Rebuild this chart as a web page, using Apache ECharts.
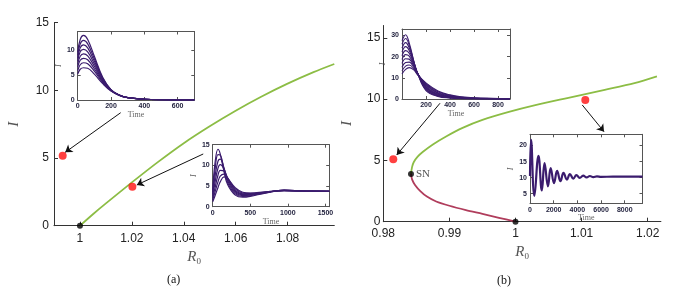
<!DOCTYPE html>
<html><head><meta charset="utf-8">
<script src="https://cdn.jsdelivr.net/npm/echarts@6/dist/echarts.min.js"></script>
<style>html,body{margin:0;padding:0;background:#fff}#c{width:686px;height:291px}</style>
</head><body><div id="c"></div>
<script>
// ---------------- data ----------------
// Panel (a) main
const aR0 = [1.0, 1.005, 1.01, 1.02, 1.03, 1.04, 1.05, 1.06, 1.07, 1.08, 1.09, 1.098];
const aI  = [0, 0.85, 1.65, 3.2, 4.7, 6.1, 7.35, 8.5, 9.55, 10.5, 11.35, 11.95];
const aRedDots = [[0.99335, 5.17], [1.0202, 2.88]];
const aBlackDots = [[1.0, 0]];
const aXTicks = [1, 1.02, 1.04, 1.06, 1.08];
const aArrows = [[[1.0157, 8.35], [0.9943, 5.42]], [[1.0475, 5.3], [1.0219, 3.01]]];

// Panel (b) main
const bUpperR0 = [0.98419, 0.98435, 0.9846, 0.9852, 0.986, 0.9875, 0.9895, 0.992, 0.995, 0.999, 1.003, 1.008, 1.0135, 1.018, 1.0214];
const bUpperI  = [3.9, 4.45, 4.85, 5.3, 5.7, 6.3, 6.95, 7.65, 8.3, 8.95, 9.5, 10.1, 10.75, 11.3, 11.85];
const bLowerR0 = [0.98419, 0.98435, 0.9848, 0.9856, 0.9866, 0.988, 0.990, 0.9925, 0.995, 0.9975, 1.0];
const bLowerI  = [3.9, 3.45, 3.0, 2.5, 2.05, 1.65, 1.3, 0.95, 0.64, 0.32, 0];
const bRedDots = [[0.98151, 5.09], [1.01056, 9.93]];
const bSN = [[0.98419, 3.9]];
const bBlackDots = [[1.0, 0]];
const bXTicks = [0.98, 0.99, 1, 1.01, 1.02];
const bArrows = [[[0.98858, 9.66], [0.98203, 5.44]], [[1.0101, 9.52], [1.0134, 7.34]]];
const snText = 'SN';

// Inset a1 (top-left)
const a1T = [0, 15, 35, 60, 100, 150, 200, 250, 300, 400, 500, 700];
const a1Curves = [
  [9.6, 12.2, 13.0, 12.2, 8.8, 4.6, 2.1, 1.0, 0.5, 0.15, 0.05, 0.02],
  [9.0, 11.3, 12.0, 11.3, 8.3, 4.4, 2.05, 1.0, 0.5, 0.15, 0.05, 0.02],
  [8.4, 10.5, 11.1, 10.5, 7.8, 4.3, 2.0, 0.98, 0.48, 0.15, 0.05, 0.02],
  [7.8, 9.7, 10.2, 9.7, 7.3, 4.1, 2.0, 0.97, 0.48, 0.15, 0.05, 0.02],
  [7.2, 8.8, 9.3, 8.9, 6.8, 3.9, 1.95, 0.96, 0.47, 0.15, 0.05, 0.02],
  [6.6, 8.0, 8.4, 8.1, 6.3, 3.7, 1.9, 0.95, 0.47, 0.15, 0.05, 0.02],
  [5.9, 7.1, 7.5, 7.3, 5.8, 3.5, 1.85, 0.94, 0.46, 0.15, 0.05, 0.02],
  [5.2, 6.2, 6.5, 6.4, 5.2, 3.3, 1.8, 0.93, 0.46, 0.15, 0.05, 0.02]
];
// Inset a2 (bottom-right of panel a)
const a2T = [0, 30, 70, 100, 150, 200, 300, 400, 500, 700, 950, 1200, 1550];
const a2Curves = [
  [4.0, 10.5, 13.9, 12.8, 8.5, 5.3, 2.8, 2.3, 2.5, 3.3, 4.0, 3.8, 3.7],
  [3.5, 8.8, 12.6, 12.5, 9.2, 5.8, 3.1, 2.5, 2.65, 3.35, 4.0, 3.8, 3.7],
  [3.0, 7.2, 11.0, 11.5, 9.4, 6.3, 3.4, 2.7, 2.8, 3.4, 3.95, 3.8, 3.7],
  [2.5, 5.8, 9.3, 10.2, 9.2, 6.7, 3.7, 2.9, 2.95, 3.45, 3.95, 3.8, 3.7],
  [2.0, 4.5, 7.6, 8.8, 8.6, 6.9, 4.0, 3.1, 3.1, 3.5, 3.9, 3.8, 3.7],
  [1.6, 3.5, 6.0, 7.4, 7.9, 6.9, 4.3, 3.3, 3.2, 3.55, 3.9, 3.8, 3.7],
  [1.2, 2.6, 4.6, 6.0, 7.2, 6.8, 4.6, 3.5, 3.3, 3.6, 3.9, 3.8, 3.7]
];
// Inset b1 (top-left of panel b)
const b1T = [0, 30, 60, 100, 130, 200, 300, 400, 500, 600, 750, 900];
const b1Curves = [
  [27.5, 30.3, 26.5, 17.5, 12.0, 4.0, 1.2, 0.45, 0.2, 0.1, 0.05, 0.02],
  [25.8, 28.5, 25.4, 17.4, 12.1, 4.4, 1.4, 0.55, 0.25, 0.12, 0.06, 0.03],
  [24.0, 26.6, 24.2, 17.2, 12.2, 4.8, 1.6, 0.65, 0.3, 0.15, 0.07, 0.04],
  [22.2, 24.7, 22.9, 16.9, 12.2, 5.2, 1.85, 0.75, 0.35, 0.18, 0.09, 0.05],
  [20.4, 22.8, 21.6, 16.5, 12.2, 5.6, 2.1, 0.9, 0.42, 0.22, 0.11, 0.06],
  [18.6, 20.9, 20.2, 16.0, 12.1, 6.0, 2.4, 1.05, 0.5, 0.27, 0.13, 0.07],
  [16.8, 19.0, 18.8, 15.4, 12.0, 6.4, 2.7, 1.25, 0.6, 0.32, 0.16, 0.09],
  [15.0, 17.2, 17.4, 14.8, 11.8, 6.8, 3.0, 1.45, 0.72, 0.38, 0.2, 0.11],
  [13.3, 15.5, 16.0, 14.2, 11.6, 7.2, 3.4, 1.7, 0.85, 0.45, 0.24, 0.13],
  [11.8, 14.0, 14.8, 13.6, 11.4, 7.6, 3.8, 1.95, 1.0, 0.55, 0.28, 0.16]
];
// Inset b2 (right of panel b)
const b2T = [0, 90, 372, 715, 1000, 1230, 1516, 1745, 2030, 2290, 2574, 2830, 3120, 3370, 3660, 3920, 4200, 4490, 4780, 5060, 5350, 5650, 6000, 7000, 8000, 9500];
const b2I = [10.5, 21.8, 4.3, 16.8, 6.0, 14.5, 7.3, 13.0, 8.3, 12.1, 8.9, 11.5, 9.4, 11.1, 9.7, 10.8, 9.9, 10.6, 10.05, 10.5, 10.15, 10.4, 10.25, 10.3, 10.3, 10.3];
const b2YTicks = [5, 10, 15, 20];

const timeLabel = 'Time';
const iLabel = 'I';
const captions = ['(a)', '(b)'];

// ---------------- styles ----------------
const GREEN = '#8cbd45', RED_BRANCH = '#b03d5c', PURPLE = '#3b1c6e', DOT_RED = '#ff1010';
const SANS = 'Liberation Sans', SERIF = 'Liberation Serif';
const fmt = v => String(+(+v).toFixed(3));

const grids = [], xAxes = [], yAxes = [], series = [];

function addMain(box, xmin, xmax, xticks, ymax, labelMargins, showYMax) {
  const gi = grids.length;
  grids.push(Object.assign({ containLabel: false }, box));
  const xi = xAxes.length, yi = yAxes.length;
  xAxes.push({
    gridIndex: gi, type: 'value', min: xmin, max: xmax,
    axisLine: { lineStyle: { color: '#333', width: 1 } },
    axisTick: { inside: true, length: 4, customValues: xticks, lineStyle: { color: '#333' } },
    axisLabel: { customValues: xticks, formatter: fmt, fontFamily: SANS, fontSize: 12, color: '#222', margin: labelMargins[0] },
    splitLine: { show: false },
    name: '{r|R}{s|0}', nameLocation: 'middle', nameGap: 16,
    nameTextStyle: { rich: {
      r: { fontFamily: SERIF, fontStyle: 'italic', fontSize: 15, color: '#555', lineHeight: 18, verticalAlign: 'middle' },
      s: { fontFamily: SERIF, fontSize: 9, color: '#555', lineHeight: 18, verticalAlign: 'bottom', padding: [6, 0, 0, 0] }
    } }
  });
  yAxes.push({
    gridIndex: gi, type: 'value', min: 0, max: ymax, interval: 5,
    axisLine: { show: true, lineStyle: { color: '#333', width: 1 } },
    axisTick: { show: true, inside: true, length: 4, lineStyle: { color: '#333' } },
    axisLabel: { fontFamily: SANS, fontSize: 12, color: '#222', margin: labelMargins[1], showMaxLabel: showYMax },
    splitLine: { show: false },
    name: iLabel, nameLocation: 'middle', nameGap: labelMargins[2], nameRotate: 90,
    nameTextStyle: { fontFamily: SERIF, fontStyle: 'italic', fontSize: 15, color: '#555' }
  });
  return { xi, yi };
}

function addInset(box, xr, yr, opts) {
  const gi = grids.length;
  grids.push(Object.assign({ containLabel: false }, box));
  const base = (extra) => Object.assign({
    gridIndex: gi, type: 'value',
    axisLine: { show: true, onZero: false, lineStyle: { color: '#555', width: 1 } },
    axisTick: { show: true, inside: true, length: 3, lineStyle: { color: '#555' } },
    splitLine: { show: false }
  }, extra);
  const lab = { fontFamily: SANS, fontSize: 7, fontWeight: 'bold', color: '#1d1d3a', formatter: v => String(v) };
  const xi = xAxes.length, yi = yAxes.length;
  xAxes.push(base({ position: 'bottom', min: xr[0], max: xr[1], interval: xr[2],
    axisLabel: Object.assign({ margin: 3, showMinLabel: opts.showX0 !== false, showMaxLabel: false }, lab),
    name: timeLabel, nameLocation: 'middle', nameGap: opts.timeGap,
    nameTextStyle: { fontFamily: SERIF, fontSize: 8, color: '#666' } }));
  xAxes.push(base({ position: 'top', min: xr[0], max: xr[1], interval: xr[2], axisLabel: { show: false } }));
  const yTickCfg = yr[3] ? { customValues: yr[3] } : {};
  yAxes.push(base({ position: 'left', min: yr[0], max: yr[1], interval: yr[2],
    axisTick: Object.assign({ show: true, inside: true, length: 3, lineStyle: { color: '#555' } }, yTickCfg),
    axisLabel: Object.assign({ margin: 3, showMaxLabel: !!opts.showYMax }, lab, yTickCfg),
    name: iLabel, nameLocation: 'middle', nameGap: opts.iGap, nameRotate: 90,
    nameTextStyle: { fontFamily: SERIF, fontStyle: 'italic', fontSize: 8, color: '#555' } }));
  yAxes.push(base({ position: 'right', min: yr[0], max: yr[1], interval: yr[2],
    axisTick: Object.assign({ show: true, inside: true, length: 3, lineStyle: { color: '#555' } }, yTickCfg),
    axisLabel: { show: false } }));
  return { xi, yi };
}

function lineSeries(ax, xs, ys, color, width, smooth) {
  series.push({ type: 'line', xAxisIndex: ax.xi, yAxisIndex: ax.yi, data: xs.map((x, i) => [x, ys[i]]),
    showSymbol: false, smooth: smooth, silent: true, lineStyle: { color: color, width: width }, z: 3 });
}
function dots(ax, pts, color, size, label) {
  series.push({ type: 'scatter', xAxisIndex: ax.xi, yAxisIndex: ax.yi, data: pts, symbolSize: size,
    itemStyle: { color: color }, silent: true, z: 6, label: label || { show: false } });
}
function arrows(ax, list) {
  series.push({ type: 'lines', coordinateSystem: 'cartesian2d', xAxisIndex: ax.xi, yAxisIndex: ax.yi,
    data: list.map(c => ({ coords: c })), symbol: ['none', 'arrow'], symbolSize: 7,
    lineStyle: { color: '#111', width: 1, opacity: 1, curveness: 0 }, silent: true, z: 5 });
}

// ---------------- panel (a) ----------------
const A = addMain({ left: 54, top: 22.7, width: 280.3, height: 203 }, 0.99, 1.098, aXTicks, 15, [7, 5, 32], true);
lineSeries(A, aR0, aI, GREEN, 1.8, 0.3);
dots(A, aRedDots, DOT_RED, 8);
dots(A, aBlackDots, '#000', 6);
arrows(A, aArrows);

const A1 = addInset({ left: 77.7, top: 31.5, width: 116.6, height: 68.5 }, [0, 700, 200], [0, 13.8, 5], { timeGap: 11, iGap: 12 });
a1Curves.forEach(c => lineSeries(A1, a1T, c, PURPLE, 1.2, 0.4));
const A2 = addInset({ left: 212.7, top: 144.7, width: 116.5, height: 62 }, [0, 1550, 500], [0, 15, 5], { timeGap: 11, iGap: 10, showYMax: true });
a2Curves.forEach(c => lineSeries(A2, a2T, c, PURPLE, 1.2, 0.4));

// ---------------- panel (b) ----------------
const B = addMain({ left: 383.3, top: 25.5, width: 277.6, height: 196.2 }, 0.98, 1.022, bXTicks, 16, [6, 3, 29], false);
lineSeries(B, bUpperR0, bUpperI, GREEN, 1.8, 0.3);
lineSeries(B, bLowerR0, bLowerI, RED_BRANCH, 1.8, 0.3);
dots(B, bRedDots, DOT_RED, 8);
dots(B, bBlackDots, '#000', 6);
dots(B, bSN, '#000', 6, { show: true, position: 'right', distance: 2, formatter: snText, fontFamily: SERIF, fontSize: 11, color: '#222' });
arrows(B, bArrows);

const B1 = addInset({ left: 402, top: 29, width: 108, height: 70 }, [0, 900, 200], [0, 33, 10], { timeGap: 10, iGap: 7, showX0: false });
b1Curves.forEach(c => lineSeries(B1, b1T, c, PURPLE, 1.1, 0.4));
const B2 = addInset({ left: 530, top: 134.3, width: 112.5, height: 69 }, [0, 9500, 2000], [2, 23.5, 5, b2YTicks], { timeGap: 10, iGap: 6, showYMax: true });
lineSeries(B2, b2T, b2I, PURPLE, 2.2, 0.45);

const chart = echarts.init(document.getElementById('c'), null, { renderer: 'canvas' });
chart.setOption({
  animation: false,
  backgroundColor: '#fff',
  grid: grids, xAxis: xAxes, yAxis: yAxes, series: series,
  graphic: [
    { type: 'text', left: 167, top: 274, style: { text: captions[0], font: '12px "Liberation Serif"', fill: '#111' } },
    { type: 'text', left: 497, top: 275, style: { text: captions[1], font: '12px "Liberation Serif"', fill: '#111' } }
  ]
});
</script></body></html>
